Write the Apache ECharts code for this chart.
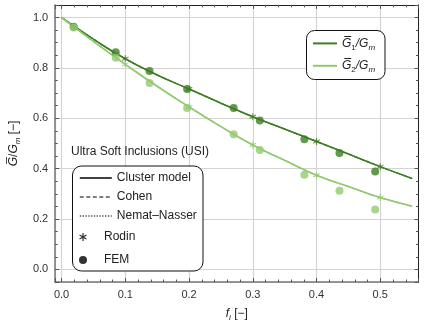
<!DOCTYPE html>
<html><head><meta charset="utf-8">
<script src="https://cdn.jsdelivr.net/npm/echarts@6/dist/echarts.min.js"></script>
<style>html,body{margin:0;padding:0;background:#fff}#c{width:424px;height:327px}</style>
</head><body><div id="c"></div>
<script>
// ---- data ----
const fCurve = [0, 0.05, 0.1, 0.15, 0.2, 0.25, 0.3, 0.35, 0.4, 0.45, 0.5, 0.55];
const g1Curve = [1.0, 0.914, 0.836, 0.772, 0.716, 0.660, 0.606, 0.557, 0.508, 0.458, 0.408, 0.361];
const g2Curve = [1.0, 0.905, 0.814, 0.727, 0.645, 0.567, 0.494, 0.433, 0.374, 0.329, 0.285, 0.251];

const fRodin = [0.1, 0.2, 0.3, 0.4, 0.5];
const g1Rodin = [0.836, 0.716, 0.606, 0.508, 0.408];
const g2Rodin = [0.814, 0.645, 0.494, 0.374, 0.285];

const fFem = [0.019, 0.085, 0.138, 0.197, 0.270, 0.311, 0.381, 0.436, 0.492];
const g1Fem = [0.963, 0.862, 0.788, 0.716, 0.641, 0.591, 0.517, 0.462, 0.389];
const g2Fem = [0.960, 0.840, 0.740, 0.641, 0.537, 0.474, 0.376, 0.312, 0.238];

const xTickLabels = ['0.0', '0.1', '0.2', '0.3', '0.4', '0.5'];
const yTickLabels = ['0.0', '0.2', '0.4', '0.6', '0.8', '1.0'];

// ---- styling ----
const DARK = '#3d7e22', LIGHT = '#92c970';
const FONT = 'Liberation Sans, Arial, sans-serif';
const STAR = 'path://M0.15 -1 L-0.15 -1 L-0.15 1 L0.15 1 Z M0.791 0.630 L0.941 0.370 L-0.791 -0.630 L-0.941 -0.370 Z M-0.941 0.370 L-0.791 0.630 L0.941 -0.370 L0.791 -0.630 Z';

const zip = (xs, ys) => xs.map((x, i) => [x, ys[i]]);

const rich = {
  it: {fontStyle: 'italic', fontSize: 12, fontFamily: FONT, color: '#222', lineHeight: 16},
  n: {fontSize: 12, fontFamily: FONT, color: '#222', lineHeight: 16},
  sub: {fontSize: 8, fontFamily: FONT, color: '#222', verticalAlign: 'bottom', lineHeight: 16},
  subi: {fontSize: 8, fontStyle: 'italic', fontFamily: FONT, color: '#222', verticalAlign: 'bottom', lineHeight: 16}
};

function lineSeries(name, ys, color, type, width) {
  return {
    name, type: 'line', data: zip(fCurve, ys), smooth: true, symbol: 'none', showSymbol: false,
    lineStyle: {color, width, type}, itemStyle: {color}, z: 2
  };
}

const xLabelFmt = v => {
  const s = Number(v).toFixed(1);
  return (v >= -1e-9 && v <= 0.5 + 1e-9 && xTickLabels.includes(s)) ? s : '';
};
const yLabelFmt = v => {
  const s = Number(v).toFixed(1);
  return (v >= -1e-9 && v <= 1.0 + 1e-9 && yTickLabels.includes(s)) ? s : '';
};

const axisCommonX = {
  type: 'value', min: -0.01, max: 0.56, splitNumber: 5,
  axisTick: {show: true, inside: true, length: 4, lineStyle: {color: '#555', width: 1}},
  minorTick: {show: true, splitNumber: 5, length: 2.5, lineStyle: {color: '#555', width: 1}}
};
const axisCommonY = {
  type: 'value', min: -0.05, max: 1.05, splitNumber: 5,
  axisTick: {show: true, inside: true, length: 4, lineStyle: {color: '#555', width: 1}},
  minorTick: {show: true, splitNumber: 4, length: 2.5, lineStyle: {color: '#555', width: 1}}
};

const hiddenSym = {color: '#000', opacity: 0};

const option = {
  animation: false,
  backgroundColor: '#fff',
  textStyle: {fontFamily: FONT},
  grid: {left: 40, right: 5.5, top: 4.9, bottom: 40.5, containLabel: false},
  title: {
    text: 'Ultra Soft Inclusions (USI)', left: 71, top: 146, padding: 0, z: 20,
    textStyle: {fontSize: 12, fontWeight: 'normal', color: '#222', fontFamily: FONT}
  },
  xAxis: [
    Object.assign({}, axisCommonX, {
      position: 'bottom',
      name: '{it|f}{subi|i}{n| [\u2212]}', nameLocation: 'middle', nameGap: 24,
      nameTextStyle: {rich},
      axisLine: {show: true, onZero: false, lineStyle: {color: '#777', width: 1.5}},
      axisLabel: {show: true, margin: 7, fontSize: 11, color: '#333', fontFamily: FONT, formatter: xLabelFmt},
      splitLine: {show: true, lineStyle: {color: '#d4d4d4', width: 1.2}}
    }),
    Object.assign({}, axisCommonX, {
      position: 'top',
      axisLine: {show: true, onZero: false, lineStyle: {color: '#222', width: 1}},
      axisLabel: {show: false}, splitLine: {show: false}
    })
  ],
  yAxis: [
    Object.assign({}, axisCommonY, {
      position: 'left',
      name: '{it|G\u0305}{n|/}{it|G}{subi|m}{n| [\u2212]}', nameLocation: 'middle', nameGap: 20, nameRotate: 90,
      nameTextStyle: {rich},
      axisLine: {show: true, onZero: false, lineStyle: {color: '#777', width: 1.5}},
      axisLabel: {show: true, margin: 7, fontSize: 11, color: '#333', fontFamily: FONT, formatter: yLabelFmt},
      splitLine: {show: true, lineStyle: {color: '#d4d4d4', width: 1.2}}
    }),
    Object.assign({}, axisCommonY, {
      position: 'right',
      axisLine: {show: true, onZero: false, lineStyle: {color: '#222', width: 1}},
      axisLabel: {show: false}, splitLine: {show: false}
    })
  ],
  legend: [
    {
      orient: 'vertical', left: 312, top: 37, padding: 0, z: 20,
      itemWidth: 24, itemHeight: 16, itemGap: 8, itemTextGap: 7, selectedMode: false,
      data: [
        {name: 'G1', itemStyle: {color: DARK, opacity: 0}, lineStyle: {color: DARK, width: 2, opacity: 1}},
        {name: 'G2', itemStyle: {color: LIGHT, opacity: 0}, lineStyle: {color: LIGHT, width: 2, opacity: 1}}
      ],
      formatter: n => n === 'G1' ? '{it|G\u0305}{sub|1}{it|/G}{subi|m}' : '{it|G\u0305}{sub|2}{it|/G}{subi|m}',
      textStyle: {rich}
    },
    {
      orient: 'vertical', left: 79, top: 171, padding: 0, z: 20,
      itemWidth: 32, itemHeight: 14, itemGap: 5, itemTextGap: 9, selectedMode: false,
      textStyle: {fontSize: 12, color: '#222', fontFamily: FONT, lineHeight: 14},
      data: [
        {name: 'Cluster model', lineStyle: {color: '#000', width: 1.6, type: 'solid', opacity: 1}, itemStyle: hiddenSym},
        {name: 'Cohen', lineStyle: {color: '#000', width: 1.2, type: [4, 2.5], opacity: 1}, itemStyle: hiddenSym},
        {name: 'Nemat\u2013Nasser', lineStyle: {color: '#000', width: 1.2, type: [1.4, 1.4], opacity: 1}, itemStyle: hiddenSym}
      ]
    },
    {
      orient: 'vertical', left: 79, top: 230, padding: 0, z: 20,
      itemWidth: 32, itemHeight: 8, itemGap: 9, itemTextGap: 9, selectedMode: false,
      textStyle: {fontSize: 12, color: '#222', fontFamily: FONT, lineHeight: 14},
      data: [
        {name: 'Rodin', itemStyle: {color: '#000'}},
        {name: 'FEM', itemStyle: {color: '#000'}}
      ]
    }
  ],
  graphic: [
    {type: 'rect', z: 5, shape: {x: 306.5, y: 30.5, width: 78.5, height: 49, r: 8},
     style: {fill: '#fff', stroke: '#111', lineWidth: 1}},
    {type: 'rect', z: 5, shape: {x: 72.5, y: 166, width: 130.5, height: 105, r: 9},
     style: {fill: '#fff', stroke: '#111', lineWidth: 1}}
  ],
  series: [
    lineSeries('Cluster model', g1Curve, DARK, 'solid', 1.6),
    lineSeries('Cohen', g1Curve, DARK, [4, 2.5], 1.2),
    lineSeries('Nemat\u2013Nasser', g1Curve, DARK, [1.4, 1.4], 1.2),
    lineSeries('Cluster model', g2Curve, LIGHT, 'solid', 1.6),
    lineSeries('Cohen', g2Curve, LIGHT, [4, 2.5], 1.2),
    lineSeries('Nemat\u2013Nasser', g2Curve, LIGHT, [1.4, 1.4], 1.2),
    {name: 'FEM', type: 'scatter', data: zip(fFem, g1Fem), symbol: 'circle', symbolSize: 8, itemStyle: {color: DARK}, z: 3},
    {name: 'FEM', type: 'scatter', data: zip(fFem, g2Fem), symbol: 'circle', symbolSize: 8, itemStyle: {color: LIGHT}, z: 3},
    {name: 'Rodin', type: 'scatter', data: zip(fRodin, g1Rodin), symbol: STAR, symbolSize: 7, itemStyle: {color: DARK}, z: 4},
    {name: 'Rodin', type: 'scatter', data: zip(fRodin, g2Rodin), symbol: STAR, symbolSize: 7, itemStyle: {color: LIGHT}, z: 4},
    {name: 'G1', type: 'line', data: [], symbol: 'none', lineStyle: {color: DARK, width: 2}, itemStyle: {color: DARK}},
    {name: 'G2', type: 'line', data: [], symbol: 'none', lineStyle: {color: LIGHT, width: 2}, itemStyle: {color: LIGHT}}
  ]
};

const chart = echarts.init(document.getElementById('c'), null, {renderer: 'canvas'});
chart.setOption(option);
</script>
</body></html>
